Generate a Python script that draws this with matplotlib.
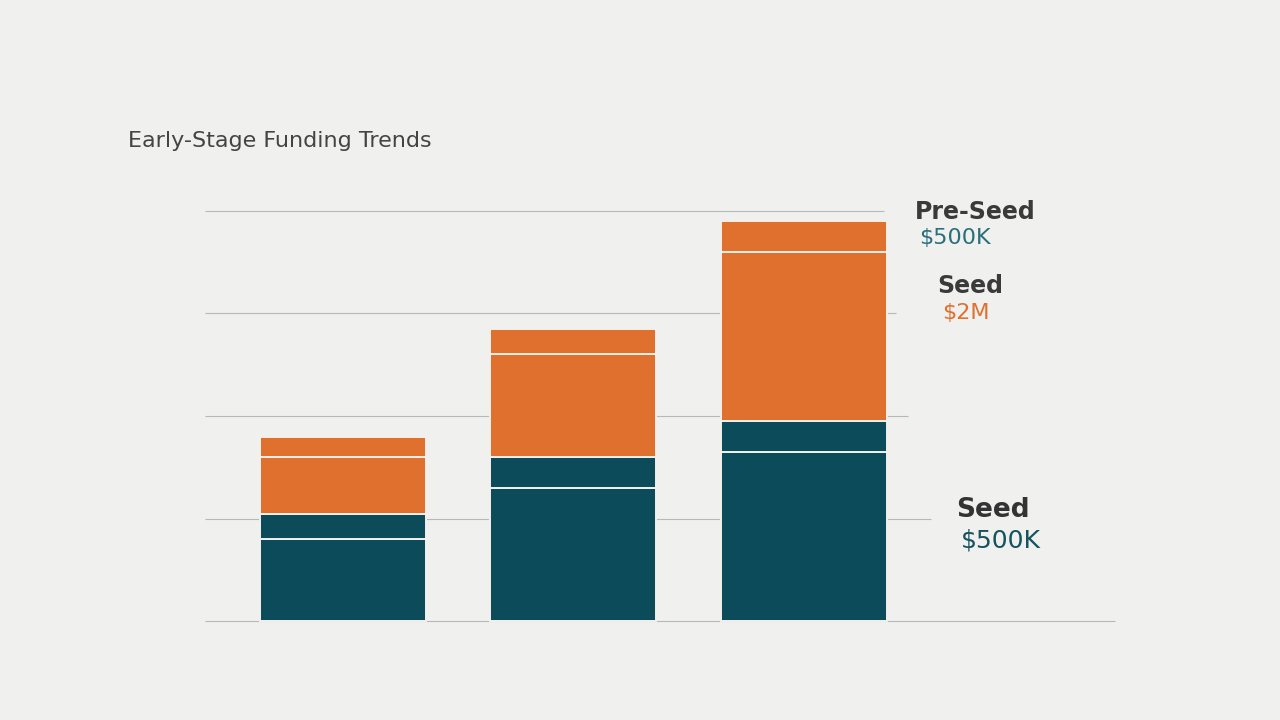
import matplotlib
matplotlib.use("Agg")
import matplotlib.pyplot as plt
import numpy as np

plt.rcParams['font.family'] = ['DejaVu Sans']

# Data (units ~ gridline steps)
categories = ["A", "B", "C"]
seed_main = [0.80, 1.30, 1.65]
seed_extra = [0.25, 0.30, 0.30]
seed_2m = [0.55, 1.00, 1.65]
pre_seed = [0.20, 0.25, 0.30]
gridlines = [0, 1, 2, 3, 4]
grid_ends = [3.35, 2.55, 2.45, 2.4, 2.35]

teal = "#0c4b5a"
orange = "#e0702e"
bg = "#f0f0ef"

fig = plt.figure(figsize=(12.8, 7.2), dpi=100, facecolor=bg)
ax = fig.add_axes([0.16, 0.13, 0.72, 0.62])
ax.set_facecolor(bg)

x = np.arange(len(categories))
w = 0.72
bottom = np.zeros(len(categories))
for vals, col in [(seed_main, teal), (seed_extra, teal), (seed_2m, orange), (pre_seed, orange)]:
    ax.bar(x, vals, width=w, bottom=bottom, color=col, edgecolor="#f4f1ec",
           linewidth=1.4, zorder=3)
    bottom = bottom + np.array(vals)

for g, xe in zip(gridlines, grid_ends):
    ax.plot([-0.6, xe], [g, g], color="#b8b8b8", linewidth=0.8, zorder=1,
            solid_capstyle="butt")

ax.set_xlim(-0.6, 3.4)
ax.set_ylim(-0.05, 4.3)
ax.set_xticks([])
ax.set_yticks([])
for s in ax.spines.values():
    s.set_visible(False)

# Right-side labels next to the last bar
i = 2
lx = x[i] + w / 2 + 0.12
y_seed = seed_main[i] * 0.55
y_2m = seed_main[i] + seed_extra[i] + seed_2m[i] * 0.7
y_pre = seed_main[i] + seed_extra[i] + seed_2m[i] + pre_seed[i] * 0.5
ax.text(lx, y_pre + 0.12, "Pre-Seed", fontsize=17, fontweight="bold", color="#3a3a3a", va="bottom", ha="left")
ax.text(lx + 0.02, y_pre + 0.08, "$500K", fontsize=16, color="#2a6f7a", va="top", ha="left")
ax.text(lx + 0.1, y_2m + 0.05, "Seed", fontsize=17, fontweight="bold", color="#3a3a3a", va="bottom", ha="left")
ax.text(lx + 0.12, y_2m + 0.0, "$2M", fontsize=16, color=orange, va="top", ha="left")
ax.text(lx + 0.18, y_seed + 0.05, "Seed", fontsize=19, fontweight="bold", color="#333333", va="bottom", ha="left")
ax.text(lx + 0.2, y_seed + 0.0, "$500K", fontsize=18, color="#15535f", va="top", ha="left")

fig.text(0.10, 0.79, "Early-Stage Funding Trends", fontsize=16, color="#444444", ha="left", va="bottom")

fig.savefig("out.png", dpi=100, facecolor=bg)
